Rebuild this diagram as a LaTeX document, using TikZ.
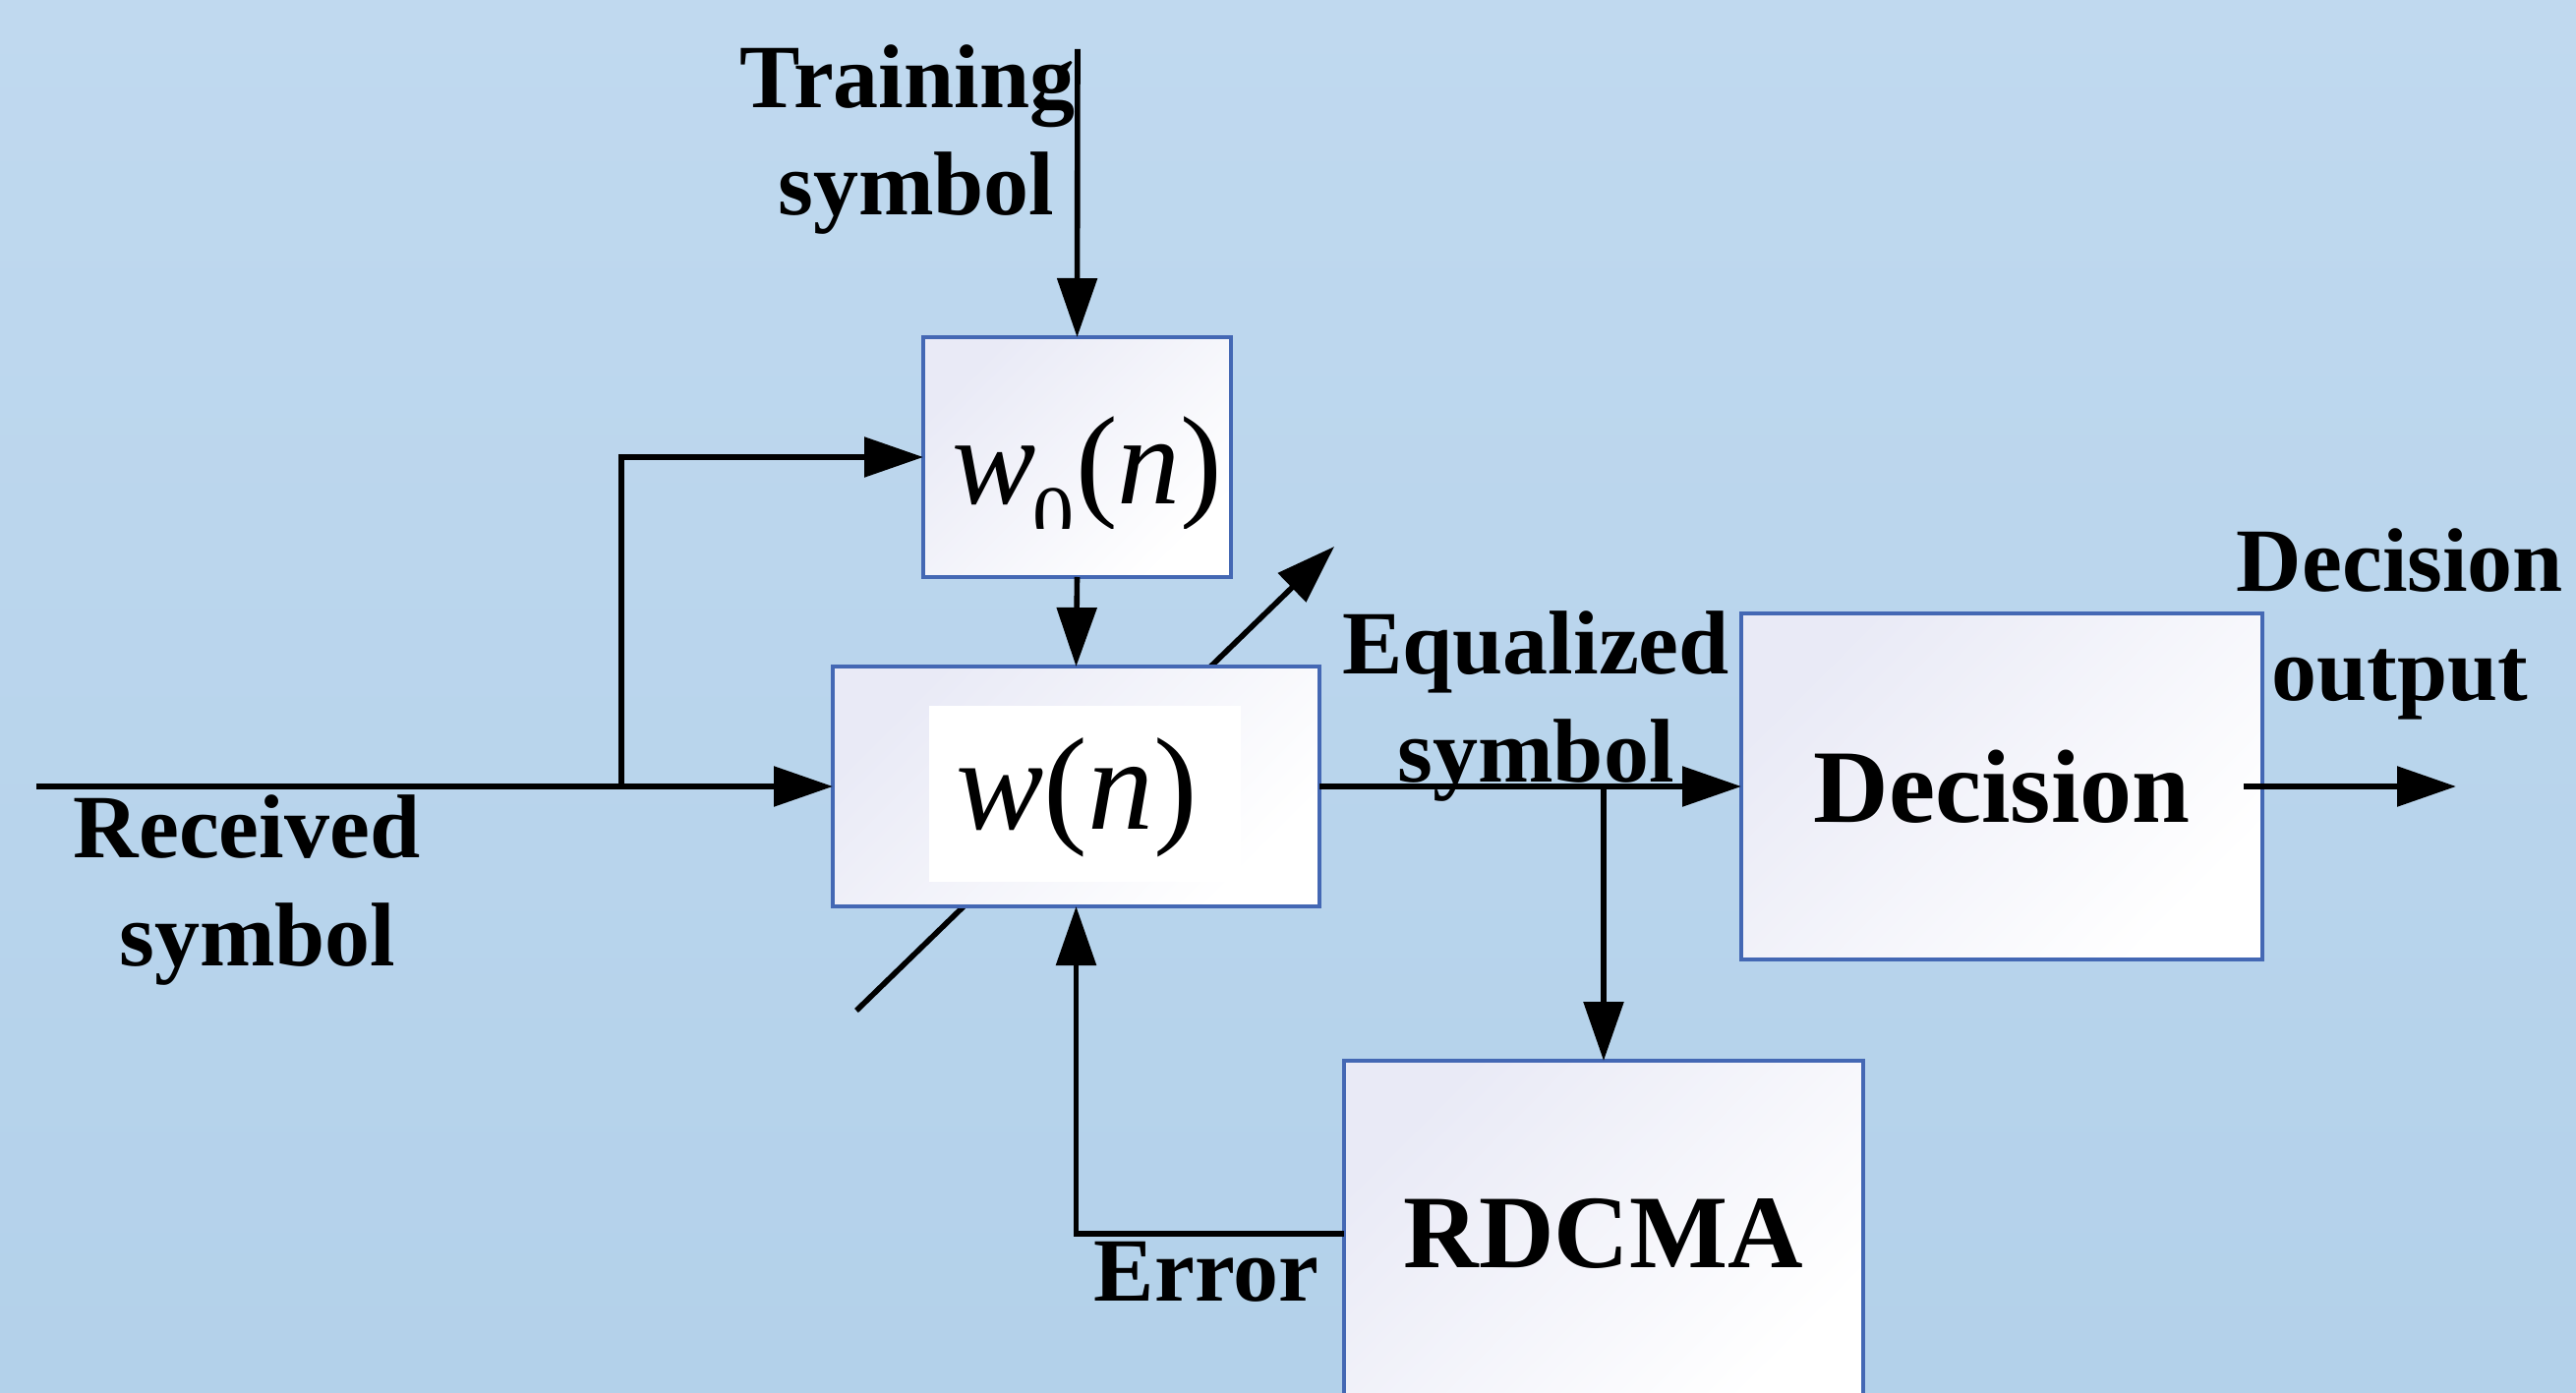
\documentclass[tikz,border=0pt]{standalone}
\usepackage{fontspec}
\setmainfont{Liberation Serif}
\usetikzlibrary{arrows.meta,calc}
\definecolor{bgtop}{HTML}{C0D9EF}
\definecolor{bgbot}{HTML}{B3D1EA}
\definecolor{boxline}{HTML}{4468B4}
\definecolor{boxtint}{HTML}{E9EAF6}
\begin{document}
\begin{tikzpicture}[x=0.5pt,y=-0.5pt,
  blk/.style={draw=boxline,line width=1.8pt,inner sep=0pt,outer sep=0pt,
    top color=boxtint,bottom color=white,shading angle=45,
    font=\bfseries\fontsize{53}{62}\selectfont},
  wire/.style={line width=2.8pt,black},
  arr/.style={wire,-{Triangle[length=30pt,width=20pt]}},
  lbl/.style={font=\bfseries\fontsize{46}{55}\selectfont,inner sep=0pt,anchor=base},
  mth/.style={inner sep=0pt,anchor=base}]

% canvas
\useasboundingbox (0,0) rectangle (2620,1417);
\clip (0,0) rectangle (2620,1417);
\shade[top color=bgtop,bottom color=bgbot] (0,0) rectangle (2620,1417);

% free ends of the connectors
\coordinate (rxin) at (37,800);
\coordinate (tap) at (632,800);
\coordinate (trin) at (1096,50);
\coordinate (adjlo) at (871,1028);
\coordinate (adjhi) at (1357,556);
\coordinate (decstub) at (2282,800);
\coordinate (decout) at (2498,800);

% adaptation arrow crossing the filter block
\draw[arr] (adjlo) -- (adjhi);

% blocks
\node[blk,minimum width=156.5pt,minimum height=122pt] (w0) at (1095.5,465) {};
\node[blk,minimum width=247.5pt,minimum height=122pt] (wn) at (1094.5,800) {};
\node[blk,minimum width=265pt,minimum height=176pt] (dec) at (2036,800) {Decision};
\node[blk,minimum width=264pt,minimum height=176pt] (rd) at (1631,1255) {RDCMA};

% filter labels
\fill[white] (945,718) rectangle (1262,897);
\node[mth,font=\fontsize{67}{80}\selectfont] (wnlab) at (1095,843)
  {\textit{w}(\textit{n})};
\begin{scope}
  \clip (940,345) rectangle (1250,538);
  \node[mth,font=\fontsize{64}{76}\selectfont] (w0lab) at (1106,513)
    {\textit{w}\kern-2pt\raisebox{-20pt}{\fontsize{42}{50}\selectfont 0}\kern1pt(\textit{n})};
\end{scope}

% signal labels
\node[lbl] (trainA) at (923,110) {Training};
\node[lbl] (trainB) at (932,219) {symbol};
\node[lbl] (recvA) at (251,872) {Received};
\node[lbl] (recvB) at (262,982) {symbol};
\node[lbl] (eqA) at (1562,685) {Equalized};
\node[lbl] (eqB) at (1562,795) {symbol};
\node[lbl] (outA) at (2441,602) {Decision};
\node[lbl] (outB) at (2441,712) {output};
\node[lbl] (errlab) at (1227,1323) {Error};

% connectors
\draw[arr] (rxin) -- (wn.west);
\draw[arr] (tap) |- (w0.west);
\draw[arr] (trin) -- (w0.north);
\draw[arr] (w0.south) -- (wn.north);
\draw[arr] (wn.east) -- (dec.west);
\draw[arr] (rd.north |- wn.east) -- (rd.north);
\draw[arr] (rd.west) -| (wn.south);
\draw[arr] (decstub) -- (decout);
\end{tikzpicture}
\end{document}
